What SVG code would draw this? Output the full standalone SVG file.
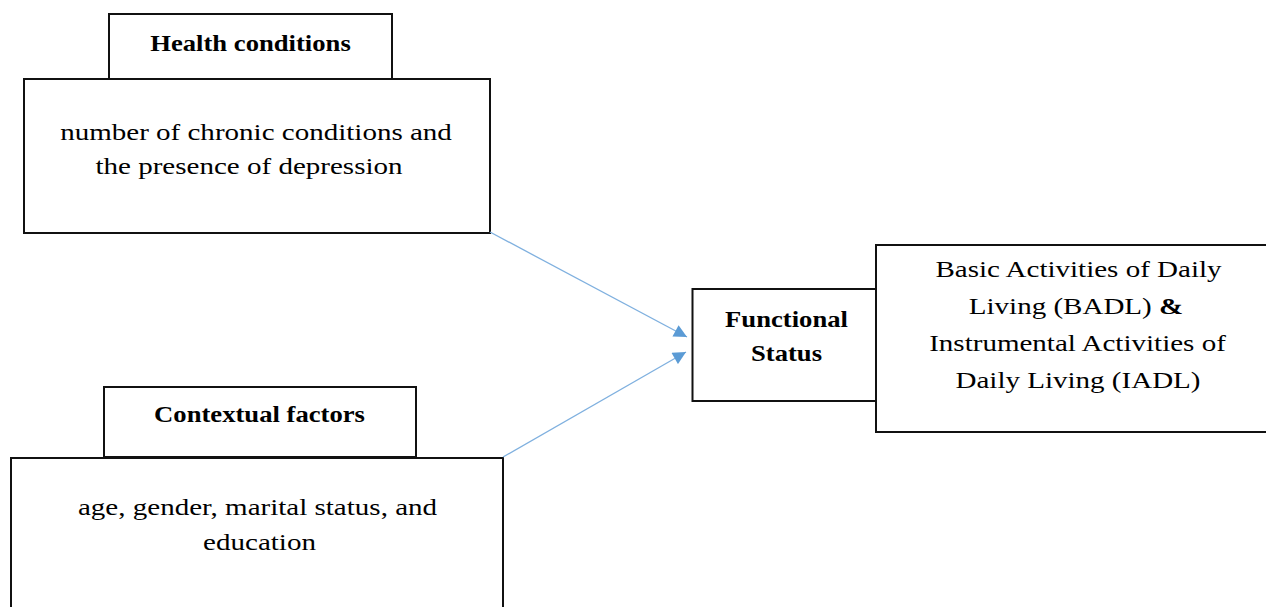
<svg xmlns="http://www.w3.org/2000/svg" width="1266" height="607" viewBox="0 0 1266 607">
<style>
.box{fill:#fff;stroke:#111;stroke-width:2}
.b{font-family:"Liberation Serif","Times New Roman",serif;font-weight:bold;font-size:24px;fill:#000;text-anchor:middle}
.r{font-family:"Liberation Serif","Times New Roman",serif;font-size:24px;fill:#000;text-anchor:middle}
.c{stroke:#7fb0df;stroke-width:1.3;fill:none;marker-end:url(#ah)}
</style>
<defs>
<marker id="ah" viewBox="0 0 10 10" refX="10" refY="5" markerWidth="14" markerHeight="13" markerUnits="userSpaceOnUse" orient="auto">
<path d="M0,0 L10,5 L0,10 z" fill="#5B9BD5"/>
</marker>
</defs>
<rect width="1266" height="607" fill="#fff"/>
<g id="health">
<rect class="box" x="109" y="14" width="283" height="65"/>
<rect class="box" x="24" y="79" width="466" height="154"/>
<text class="b" transform="translate(250.5,51) scale(1.11,1)">Health conditions</text>
<text class="r" transform="translate(256,140) scale(1.21,1)">number of chronic conditions and</text>
<text class="r" transform="translate(249,174) scale(1.21,1)">the presence of depression</text>
</g>
<g id="contextual">
<rect class="box" x="104" y="387" width="312" height="70"/>
<rect class="box" x="11" y="458" width="492" height="170"/>
<text class="b" transform="translate(259.5,422) scale(1.11,1)">Contextual factors</text>
<text class="r" transform="translate(257.5,515) scale(1.21,1)">age, gender, marital status, and</text>
<text class="r" transform="translate(259.5,550) scale(1.21,1)">education</text>
</g>
<g id="functional">
<rect class="box" x="692.5" y="289" width="183.5" height="112"/>
<text class="b" transform="translate(786.5,327) scale(1.11,1)">Functional</text>
<text class="b" transform="translate(786.5,361) scale(1.11,1)">Status</text>
</g>
<g id="activities">
<rect class="box" x="876" y="245" width="395" height="187"/>
<text class="r" transform="translate(1078.5,277) scale(1.21,1)">Basic Activities of Daily</text>
<text class="r" transform="translate(1076,314) scale(1.21,1)">Living (BADL) <tspan font-weight="bold">&amp;</tspan></text>
<text class="r" transform="translate(1077.5,351) scale(1.21,1)">Instrumental Activities of</text>
<text class="r" transform="translate(1078,388) scale(1.21,1)">Daily Living (IADL)</text>
</g>
<g id="connectors">
<line class="c" x1="490" y1="232" x2="687" y2="337"/>
<line class="c" x1="503" y1="457" x2="686" y2="352"/>
</g>
</svg>
